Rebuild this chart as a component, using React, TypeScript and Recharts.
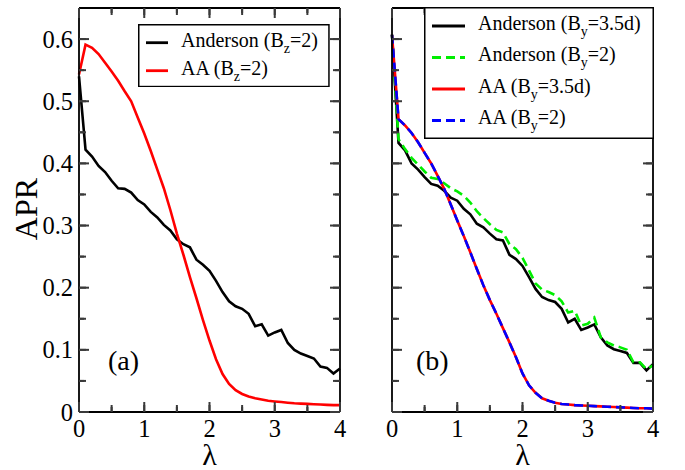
import React from 'react';
import { LineChart, Line, XAxis, YAxis, Legend } from 'recharts';

const lambda = [
  0, 0.1, 0.2, 0.3, 0.4, 0.5, 0.6, 0.7, 0.8, 0.9,
  1.0, 1.1, 1.2, 1.3, 1.4, 1.5, 1.6, 1.7, 1.8, 1.9,
  2.0, 2.1, 2.2, 2.3, 2.4, 2.5, 2.6, 2.7, 2.8, 2.9,
  3.0, 3.1, 3.2, 3.3, 3.4, 3.5, 3.6, 3.7, 3.8, 3.9, 4.0,
];
const andersonBz2 = [
  0.54, 0.422, 0.411, 0.396, 0.386, 0.372, 0.36, 0.359, 0.353, 0.341,
  0.334, 0.322, 0.313, 0.301, 0.292, 0.278, 0.27, 0.265, 0.245, 0.237,
  0.227, 0.211, 0.193, 0.178, 0.17, 0.166, 0.158, 0.138, 0.141, 0.123,
  0.128, 0.132, 0.111, 0.1, 0.094, 0.09, 0.086, 0.073, 0.071, 0.062, 0.07,
];
const aaBz2 = [
  0.543, 0.591, 0.586, 0.576, 0.562, 0.548, 0.533, 0.516, 0.5, 0.474,
  0.448, 0.42, 0.39, 0.36, 0.325, 0.287, 0.253, 0.217, 0.183, 0.148,
  0.115, 0.085, 0.061, 0.045, 0.035, 0.029, 0.025, 0.022, 0.02, 0.018,
  0.017, 0.016, 0.015, 0.014, 0.0135, 0.013, 0.0125, 0.012, 0.0115, 0.011, 0.011,
];
const andersonBy35d = [
  0.607, 0.433, 0.421, 0.4, 0.39, 0.378, 0.367, 0.364, 0.356, 0.345,
  0.34, 0.327, 0.318, 0.303, 0.297, 0.287, 0.278, 0.276, 0.253, 0.246,
  0.235, 0.217, 0.198, 0.185, 0.18, 0.177, 0.166, 0.144, 0.15, 0.132,
  0.136, 0.141, 0.12, 0.107, 0.101, 0.098, 0.095, 0.079, 0.079, 0.067, 0.077,
];
const andersonBy2 = [
  0.607, 0.439, 0.423, 0.409, 0.398, 0.387, 0.377, 0.375, 0.368, 0.36,
  0.355, 0.348, 0.337, 0.323, 0.312, 0.302, 0.293, 0.289, 0.27, 0.262,
  0.248, 0.228, 0.207, 0.197, 0.193, 0.188, 0.178, 0.16, 0.163, 0.139,
  0.142, 0.152, 0.12, 0.112, 0.107, 0.104, 0.1, 0.08, 0.08, 0.069, 0.075,
];
const aaBy35d = [
  0.607, 0.471, 0.461, 0.449, 0.434, 0.417, 0.4, 0.38, 0.359, 0.334,
  0.308, 0.283, 0.257, 0.23, 0.204, 0.18, 0.158, 0.135, 0.112, 0.088,
  0.062, 0.043, 0.031, 0.022, 0.018, 0.015, 0.013, 0.012, 0.011, 0.0105,
  0.01, 0.0095, 0.009, 0.0085, 0.008, 0.0075, 0.007, 0.0065, 0.006, 0.006, 0.0055,
];
const aaBy2 = [
  0.607, 0.471, 0.461, 0.449, 0.434, 0.417, 0.4, 0.38, 0.359, 0.334,
  0.308, 0.283, 0.257, 0.23, 0.204, 0.18, 0.158, 0.135, 0.112, 0.088,
  0.062, 0.043, 0.031, 0.022, 0.018, 0.015, 0.013, 0.012, 0.011, 0.0105,
  0.01, 0.0095, 0.009, 0.0085, 0.008, 0.0075, 0.007, 0.0065, 0.006, 0.006, 0.0055,
];

const xTicks = [0, 0.5, 1, 1.5, 2, 2.5, 3, 3.5, 4];
const yTicks = [0, 0.05, 0.1, 0.15, 0.2, 0.25, 0.3, 0.35, 0.4, 0.45, 0.5, 0.55, 0.6];
const xTickLabels = ['0', '1', '2', '3', '4'];
const yTickLabels = ['0', '0.1', '0.2', '0.3', '0.4', '0.5', '0.6'];

const panelLetters = ['(a)', '(b)'];
const xLabel = 'λ';
const yLabel = 'APR';

type Series = { key: string; pre: string; sub: string; post: string; color: string; dash?: string };

const seriesA: Series[] = [
  { key: 'andersonBz2', pre: 'Anderson (B', sub: 'z', post: '=2)', color: '#000000' },
  { key: 'aaBz2', pre: 'AA (B', sub: 'z', post: '=2)', color: '#ff0000' },
];
const seriesB: Series[] = [
  { key: 'andersonBy35d', pre: 'Anderson (B', sub: 'y', post: '=3.5d)', color: '#000000' },
  { key: 'andersonBy2', pre: 'Anderson (B', sub: 'y', post: '=2)', color: '#00ee00', dash: '9 5' },
  { key: 'aaBy35d', pre: 'AA (B', sub: 'y', post: '=3.5d)', color: '#ff0000' },
  { key: 'aaBy2', pre: 'AA (B', sub: 'y', post: '=2)', color: '#0000ff', dash: '9 5' },
];

const dataA = lambda.map((x, i) => ({ x, andersonBz2: andersonBz2[i], aaBz2: aaBz2[i] }));
const dataB = lambda.map((x, i) => ({
  x,
  andersonBy35d: andersonBy35d[i],
  andersonBy2: andersonBy2[i],
  aaBy35d: aaBy35d[i],
  aaBy2: aaBy2[i],
}));

const FONT = '"Liberation Serif"';
const TICK_COLOR = '#3a3a3a';
const NATIVE_TICK = 7;
const nativeTickLine = { stroke: TICK_COLOR, strokeWidth: 2 };

const isMajorX = (v: number) => Math.abs(v - Math.round(v)) < 1e-6;
const isMajorY = (v: number) => Math.abs(v * 10 - Math.round(v * 10)) < 1e-6;

const tickBottomLabeled = (props: any) => {
  const x = Number(props.x);
  const y = Number(props.y);
  const v = Number(props.payload.value);
  const major = isMajorX(v);
  return (
    <g>
      <path d={`M${x},${y}l0,${major ? -10 : -5}`} stroke={TICK_COLOR} strokeWidth={2} fill="none" />
      {major ? (
        <text x={x} y={y + 25} textAnchor="middle" fontFamily={FONT} fontSize={24.5} fill="#000">
          {xTickLabels[Math.round(v)]}
        </text>
      ) : null}
    </g>
  );
};
const tickTop = (props: any) => {
  const x = Number(props.x);
  const y = Number(props.y);
  const major = isMajorX(Number(props.payload.value));
  return <path d={`M${x},${y}l0,${major ? 10 : 5}`} stroke={TICK_COLOR} strokeWidth={2} fill="none" />;
};
const tickLeftLabeled = (props: any) => {
  const x = Number(props.x);
  const y = Number(props.y);
  const v = Number(props.payload.value);
  const major = isMajorY(v);
  return (
    <g>
      <path d={`M${x},${y}l${major ? 10 : 5},0`} stroke={TICK_COLOR} strokeWidth={2} fill="none" />
      {major ? (
        <text x={x - 6} y={y + 8.5} textAnchor="end" fontFamily={FONT} fontSize={24.5} fill="#000">
          {yTickLabels[Math.round(v * 10)]}
        </text>
      ) : null}
    </g>
  );
};
const tickLeftPlain = (props: any) => {
  const x = Number(props.x);
  const y = Number(props.y);
  const major = isMajorY(Number(props.payload.value));
  return <path d={`M${x},${y}l${major ? 10 : 5},0`} stroke={TICK_COLOR} strokeWidth={2} fill="none" />;
};
const tickRight = (props: any) => {
  const x = Number(props.x);
  const y = Number(props.y);
  const major = isMajorY(Number(props.payload.value));
  return <path d={`M${x},${y}l${major ? -10 : -5},0`} stroke={TICK_COLOR} strokeWidth={2} fill="none" />;
};

type LegendBox = { left: number; top: number; width: number; height: number; lineX1: number; lineX2: number; textX: number; rows: number[]; base: number };

function makeLegend(series: Series[], box: LegendBox) {
  return () => (
    <svg width={box.width} height={box.height} style={{ display: 'block' }}>
      <rect x={0.75} y={0.75} width={box.width - 1.5} height={box.height - 1.5} fill="#fff" stroke="#000" strokeWidth={1.5} />
      {series.map((s, i) => (
        <g key={s.key}>
          <line x1={box.lineX1} x2={box.lineX2} y1={box.rows[i]} y2={box.rows[i]} stroke={s.color} strokeWidth={2.8} strokeDasharray={s.dash} />
          <text x={box.textX} y={box.rows[i] + box.base} fontFamily={FONT} fontSize={20} fill="#000">
            {s.pre}
            <tspan fontSize={14} dy={6}>{s.sub}</tspan>
            <tspan fontSize={20} dy={-6}>{s.post}</tspan>
          </text>
        </g>
      ))}
    </svg>
  );
}

const frame = { stroke: '#000', strokeWidth: 1.8 };

type PanelProps = {
  data: any[];
  series: Series[];
  width: number;
  yAxisWidth: number;
  marginRight: number;
  showYLabels: boolean;
  letter: string;
  letterX: number;
  legend: LegendBox;
};

function Panel(p: PanelProps) {
  const plotLeft = p.yAxisWidth;
  const plotRight = p.width - p.marginRight - 1;
  const midX = (plotLeft + plotRight) / 2;
  return (
    <LineChart width={p.width} height={470} data={p.data} margin={{ top: 7, right: p.marginRight, bottom: 28, left: 0 }}>
      <XAxis
        dataKey="x"
        type="number"
        domain={[0, 4]}
        ticks={xTicks}
        interval={0}
        height={30}
        tickSize={-NATIVE_TICK}
        tickMargin={NATIVE_TICK}
        tickLine={nativeTickLine}
        axisLine={frame}
        tick={tickBottomLabeled}
      />
      <XAxis
        xAxisId="top"
        dataKey="x"
        orientation="top"
        type="number"
        domain={[0, 4]}
        allowDataOverflow
        ticks={xTicks}
        interval={0}
        height={1}
        tickSize={-NATIVE_TICK}
        tickMargin={NATIVE_TICK}
        tickLine={nativeTickLine}
        axisLine={frame}
        tick={tickTop}
      />
      <YAxis
        type="number"
        domain={[0, 0.65]}
        ticks={yTicks}
        interval={0}
        width={p.yAxisWidth}
        tickSize={-NATIVE_TICK}
        tickMargin={NATIVE_TICK}
        tickLine={nativeTickLine}
        axisLine={frame}
        tick={p.showYLabels ? tickLeftLabeled : tickLeftPlain}
      />
      <YAxis
        yAxisId="right"
        orientation="right"
        type="number"
        domain={[0, 0.65]}
        allowDataOverflow
        ticks={yTicks}
        interval={0}
        width={1}
        tickSize={-NATIVE_TICK}
        tickMargin={NATIVE_TICK}
        tickLine={nativeTickLine}
        axisLine={frame}
        tick={tickRight}
      />
      {p.series.map((s) => (
        <Line
          key={s.key}
          type="linear"
          dataKey={s.key}
          name={s.pre + s.sub + s.post}
          stroke={s.color}
          strokeWidth={2.6}
          strokeDasharray={s.dash}
          dot={false}
          activeDot={false}
          isAnimationActive={false}
        />
      ))}
      <Legend
        layout="vertical"
        align="center"
        verticalAlign="middle"
        content={makeLegend(p.series, p.legend)}
        wrapperStyle={{ position: 'absolute', left: p.legend.left, top: p.legend.top, width: p.legend.width, height: p.legend.height, margin: 0, padding: 0 }}
      />
      {p.showYLabels ? (
        <text x={37} y={209} textAnchor="middle" transform="rotate(-90 37 209)" fontFamily={FONT} fontSize={32} fill="#000">
          {yLabel}
        </text>
      ) : null}
      <text x={midX} y={465} textAnchor="middle" fontFamily={FONT} fontSize={30} fill="#000">{xLabel}</text>
      <text x={p.letterX} y={369.5} fontFamily={FONT} fontSize={28} fill="#000">{p.letter}</text>
    </LineChart>
  );
}

export default function App() {
  return (
    <div style={{ position: 'absolute', left: 0, top: 0, width: 685, height: 470, background: '#fff' }}>
      <div style={{ position: 'absolute', left: 0, top: 0 }}>
        <Panel
          data={dataA}
          series={seriesA}
          width={350}
          yAxisWidth={79}
          marginRight={9}
          showYLabels={true}
          letter={panelLetters[0]}
          letterX={108}
          legend={{ left: 138.3, top: 24, width: 191.7, height: 63.3, lineX1: 8, lineX2: 30, textX: 43, rows: [18.7, 46.7], base: 4 }}
        />
      </div>
      <div style={{ position: 'absolute', left: 340, top: 0 }}>
        <Panel
          data={dataB}
          series={seriesB}
          width={345}
          yAxisWidth={52}
          marginRight={31}
          showYLabels={false}
          letter={panelLetters[1]}
          letterX={76}
          legend={{ left: 84, top: 7, width: 230, height: 132, lineX1: 8, lineX2: 41, textX: 54, rows: [19, 50.5, 82, 113.5], base: 3.5 }}
        />
      </div>
    </div>
  );
}
